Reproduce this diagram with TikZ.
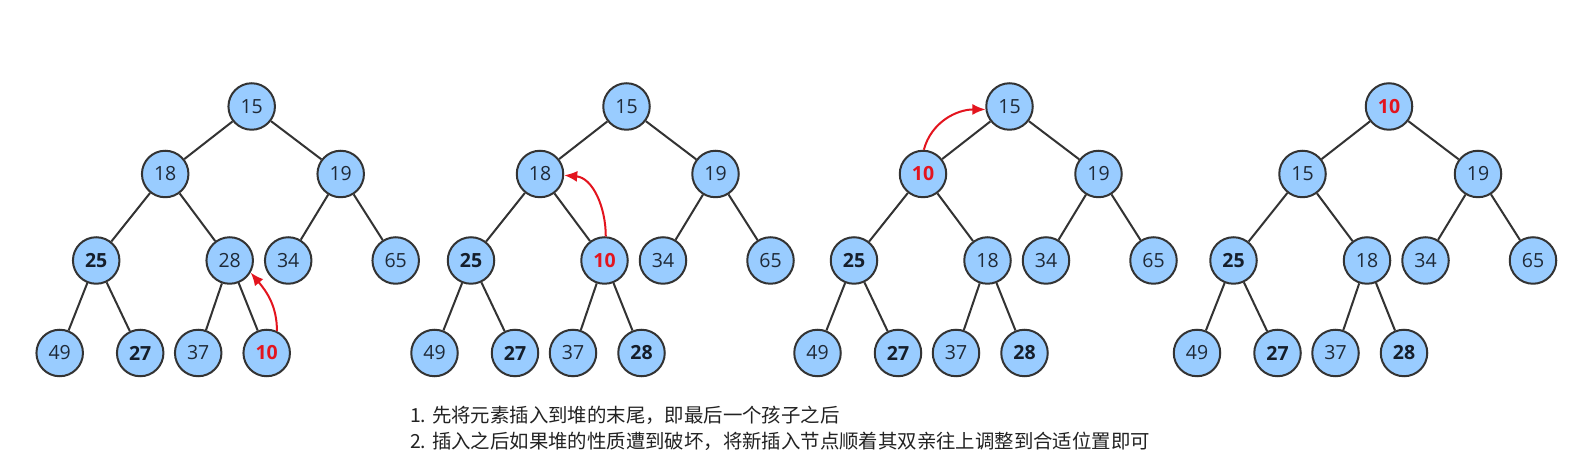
\documentclass[tikz,border=0pt]{standalone}
\usepackage{fontspec}
\setmainfont{Open Sans}
\newfontfamily\heavy{Open Sans Bold}
\newfontfamily\cjk{Noto Sans CJK SC}
\usetikzlibrary{arrows.meta}
\definecolor{nodefill}{HTML}{99CCFF}
\definecolor{nodeline}{HTML}{333333}
\definecolor{digit}{HTML}{1F2A38}
\definecolor{digitb}{HTML}{151E2B}
\definecolor{hot}{HTML}{E3141E}
\definecolor{txt}{HTML}{222222}
\newcommand\nb[1]{{\heavy\color{digitb}#1}}
\newcommand\rd[1]{{\heavy\color{hot}#1}}
\tikzset{
  hn/.style={circle, draw=nodeline, fill=nodefill, line width=2pt,
    minimum size=46.5pt, inner sep=0pt, text=digit,
    font=\fontsize{19.5}{20}\selectfont},
  edge/.style={draw=nodeline, line width=2pt},
  mover/.style={draw=hot, line width=2pt, -{Latex[length=13pt,width=11pt]}},
  note/.style={anchor=west, inner sep=0pt, text=txt,
    font=\cjk\fontsize{19.4}{24}\selectfont}
}
\newcommand\heap[6]{%
  \node[hn] (#1r) at (#2,355.5) {#3};
  \node[hn] (#1a) at (#2-86.5,288) {#4};
  \node[hn] (#1b) at (#2+89,288) {19};
  \node[hn] (#1c) at (#2-155.5,201.5) {\nb{25}};
  \node[hn] (#1d) at (#2-22,201.5) {#5};
  \node[hn] (#1e) at (#2+36.5,201.5) {34};
  \node[hn] (#1f) at (#2+144,201.5) {65};
  \node[hn] (#1g) at (#2-192,109) {49};
  \node[hn] (#1h) at (#2-111.5,109) {\nb{27}};
  \node[hn] (#1i) at (#2-53.5,109) {37};
  \node[hn] (#1j) at (#2+15,109) {#6};
  \draw[edge] (#1r) -- (#1a);
  \draw[edge] (#1r) -- (#1b);
  \draw[edge] (#1a) -- (#1c);
  \draw[edge] (#1a) -- (#1d);
  \draw[edge] (#1b) -- (#1e);
  \draw[edge] (#1b) -- (#1f);
  \draw[edge] (#1c) -- (#1g);
  \draw[edge] (#1c) -- (#1h);
  \draw[edge] (#1d) -- (#1i);
  \draw[edge] (#1d) -- (#1j);
}
\begin{document}
\begin{tikzpicture}[x=1pt,y=1pt]
\useasboundingbox[fill=white] (0,0) rectangle (1578,462);
\heap{A}{251.7}{15}{18}{28}{\rd{10}}
\heap{B}{626.5}{15}{18}{\rd{10}}{\nb{28}}
\heap{C}{1009.5}{15}{\rd{10}}{18}{\nb{28}}
\heap{D}{1389}{\rd{10}}{15}{18}{\nb{28}}
\draw[mover] (Aj.65) to[out=90,in=-50] (Ad.-30);
\draw[mover] (Bd.87) to[out=90,in=-5] (Ba.-3);
\draw[mover] (Ca.88) to[out=75,in=180] (Cr.187);
\node[note] (l1) at (410,47) {1. 先将元素插入到堆的末尾，即最后一个孩子之后};
\node[note] (l2) at (410,21) {2. 插入之后如果堆的性质遭到破坏，将新插入节点顺着其双亲往上调整到合适位置即可};
\end{tikzpicture}
\end{document}
